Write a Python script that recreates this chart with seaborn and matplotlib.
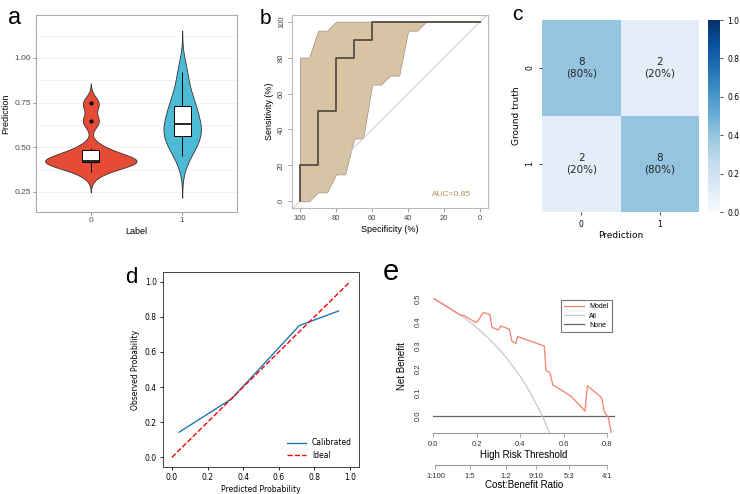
import numpy as np
import pandas as pd
import seaborn as sns
import matplotlib.pyplot as plt

W, H = 740, 494

# a: model prediction for each true label
pred_label0 = [0.36, 0.41, 0.415, 0.42, 0.42, 0.43, 0.46, 0.495, 0.645, 0.745]
pred_label1 = [0.45, 0.52, 0.56, 0.57, 0.62, 0.64, 0.70, 0.74, 0.80, 0.92]
labels = ["0", "1"]

# b: ROC curve with CI band
roc_spec = [100, 100, 90, 80, 70, 60, 0]
roc_sens = [0, 20, 50, 80, 90, 100, 100]
ci_spec = [100, 95, 90, 85, 80, 75, 70, 65, 60, 55, 50, 45, 40, 35, 30, 0]
ci_low = [0, 0, 5, 5, 15, 15, 35, 35, 65, 65, 70, 70, 95, 95, 100, 100]
ci_high = [80, 80, 95, 95, 100, 100, 100, 100, 100, 100, 100, 100, 100, 100, 100, 100]
auc_text = "AUC=0.85"

# c: confusion matrix
conf_matrix = [[8, 2], [2, 8]]
classes = ["0", "1"]

# d: calibration
cal_pred = [0.04, 0.335, 0.715, 0.935]
cal_obs = [0.143, 0.333, 0.75, 0.833]

# e: decision curve
dca_thr = [0.0, 0.123, 0.143, 0.169, 0.195, 0.202, 0.23, 0.253, 0.26, 0.27, 0.299,
           0.31, 0.34, 0.35, 0.36, 0.379, 0.388, 0.51, 0.518, 0.536, 0.549, 0.59,
           0.636, 0.697, 0.708, 0.774, 0.786, 0.805, 0.818]
dca_model = [0.5, 0.429, 0.426, 0.411, 0.397, 0.40, 0.44, 0.433, 0.43, 0.376, 0.365,
             0.382, 0.372, 0.368, 0.32, 0.308, 0.337, 0.297, 0.192, 0.185, 0.131, 0.109,
             0.081, 0.02, 0.128, 0.077, 0.017, -0.009, -0.072]
all_thr = [0.0, 0.05, 0.1, 0.15, 0.2, 0.25, 0.3, 0.35, 0.4, 0.43, 0.46, 0.49, 0.51, 0.535]
all_nb = [0.5, 0.474, 0.444, 0.412, 0.375, 0.333, 0.286, 0.231, 0.167, 0.123, 0.074,
          0.02, -0.02, -0.075]
none_thr = [0.0, 0.835]
none_nb = [0.0, 0.0]
cb_ratios = ["1:100", "1:5", "1:2", "9:10", "5:3", "4:1"]

R_FONT = "Liberation Sans"
plt.rcParams["font.family"] = ["DejaVu Sans"]


def px(l, t, r, b):
    return [l / W, 1 - b / H, (r - l) / W, (b - t) / H]


fig = plt.figure(figsize=(W / 100, H / 100), dpi=100)

# ---------------- a: violin + box ----------------
ax = fig.add_axes(px(36, 15, 237, 212))
df_a = pd.DataFrame({"Label": ["0"] * len(pred_label0) + ["1"] * len(pred_label1),
                     "Prediction": pred_label0 + pred_label1})
for y in [0.25, 0.375, 0.5, 0.625, 0.75, 0.875, 1.0, 1.125]:
    ax.axhline(y, color="#F0F0F0", lw=0.6, zorder=0)
for lab, col, bw, wd in [("0", "#E64B35", 0.31, 1.0), ("1", "#4DBBD5", 0.55, 0.41)]:
    sns.violinplot(data=df_a[df_a.Label == lab], x="Label", y="Prediction", order=labels,
                   color=col, saturation=1, bw_method=bw, cut=3, density_norm="width",
                   width=wd, inner=None, linewidth=0.6, linecolor="#333333", ax=ax)
sns.boxplot(data=df_a, x="Label", y="Prediction", order=labels, width=0.19, color="white",
            saturation=1, linecolor="black", linewidth=0.7, showcaps=False,
            flierprops=dict(marker="o", markerfacecolor="black", markeredgecolor="black",
                            markersize=2),
            medianprops=dict(linewidth=1.2), ax=ax)
ax.set_xlim(-0.6, 1.6)
ax.set_ylim(0.138, 1.24)
ax.set_yticks([0.25, 0.5, 0.75, 1.0])
ax.set_yticklabels(["0.25", "0.50", "0.75", "1.00"])
ax.tick_params(labelsize=6, labelcolor="#4D4D4D", color="#666666", length=2, width=0.5,
               pad=1.5)
for s in ax.spines.values():
    s.set_color("#AAAAAA")
    s.set_linewidth(0.8)
ax.set_xlabel("Label", fontsize=6.5, family=R_FONT, labelpad=2)
ax.set_ylabel("Prediction", fontsize=6.5, family=R_FONT, labelpad=3)
for t in ax.get_xticklabels() + ax.get_yticklabels():
    t.set_family(R_FONT)

# ---------------- b: ROC ----------------
ax = fig.add_axes(px(292, 15, 488, 208))
ax.fill_between(ci_spec, ci_low, ci_high, facecolor="#D8C3A5", edgecolor="#A09080",
                linewidth=0.5, zorder=1)
ax.axline((100, 0), (0, 100), color="#CCCCCC", lw=0.7, zorder=2)
sns.lineplot(x=roc_spec, y=roc_sens, sort=False, estimator=None, drawstyle="steps-post",
             color="#554d45", lw=1.3, ax=ax, zorder=3)
ax.set_xlim(104.5, -4.3)
ax.set_ylim(-3.7, 103.7)
ax.set_xticks([100, 80, 60, 40, 20, 0])
ax.set_yticks([0, 20, 40, 60, 80, 100])
ax.tick_params(labelsize=5.5, labelcolor="#444444", color="#777777", length=3, width=0.5,
               pad=2)
plt.setp(ax.get_yticklabels(), rotation=90, va="center")
for t in ax.get_xticklabels() + ax.get_yticklabels():
    t.set_family(R_FONT)
for s in ax.spines.values():
    s.set_color("#BBBBBB")
    s.set_linewidth(0.8)
ax.set_xlabel("Specificity (%)", fontsize=6.5, family=R_FONT, labelpad=2)
ax.set_ylabel("Sensitivity (%)", fontsize=6.5, family=R_FONT, labelpad=3)
ax.text(16, 4, auc_text, color="#B08D57", fontsize=6, family=R_FONT, ha="center",
        va="center")

# ---------------- c: confusion matrix ----------------
ax = fig.add_axes(px(542, 20, 699, 212))
cax = fig.add_axes(px(708, 20, 720, 212))
cm = np.array(conf_matrix)
row_pct = cm / cm.sum(axis=1, keepdims=True)
annot = np.array([[f"{cm[i, j]}\n({row_pct[i, j]:.0%})" for j in range(cm.shape[1])]
                  for i in range(cm.shape[0])])
sns.heatmap(cm / cm.sum(), annot=annot, fmt="", cmap="Blues", vmin=0, vmax=1,
            xticklabels=classes, yticklabels=classes, annot_kws={"size": 7.5},
            ax=ax, cbar_ax=cax)
ax.set_xlabel("Prediction", fontsize=6.5, labelpad=2)
ax.set_ylabel("Ground truth", fontsize=6.5, labelpad=3)
ax.tick_params(labelsize=5.5, length=2, width=0.5)
plt.setp(ax.get_yticklabels(), rotation=90, va="center")
cax.tick_params(labelsize=5.5, length=2, width=0.5)
cax.set_yticks([0, 0.2, 0.4, 0.6, 0.8, 1.0])
ax.collections[0].colorbar.outline.set_visible(False)

# ---------------- d: calibration ----------------
ax = fig.add_axes(px(163, 272, 359, 467))
sns.lineplot(x=cal_pred, y=cal_obs, color="#1f77b4", lw=1, label="Calibrated", ax=ax)
sns.lineplot(x=[0, 1], y=[0, 1], color="red", lw=1, linestyle="--", label="Ideal", ax=ax)
ax.set_xlim(-0.05, 1.05)
ax.set_ylim(-0.055, 1.055)
ax.set_xticks(np.arange(0, 1.01, 0.2))
ax.set_yticks(np.arange(0, 1.01, 0.2))
ax.tick_params(labelsize=5.5, length=2.5, width=0.6, pad=2)
for s in ax.spines.values():
    s.set_linewidth(0.7)
    s.set_color("#444444")
ax.set_xlabel("Predicted Probability", fontsize=5.5, labelpad=2)
ax.set_ylabel("Observed Probability", fontsize=5.5, labelpad=3)
ax.legend(loc="lower right", frameon=False, fontsize=5.5, handlelength=2.5)

# ---------------- e: decision curve ----------------
ax = fig.add_axes(px(433.3, 298.3, 615, 433))
sns.lineplot(x=none_thr, y=none_nb, color="#666666", lw=0.9, label="None", ax=ax,
             zorder=1)
sns.lineplot(x=all_thr, y=all_nb, sort=False, estimator=None, color="#C8C8C8", lw=0.9,
             label="All", ax=ax, zorder=2)
sns.lineplot(x=dca_thr, y=dca_model, sort=False, estimator=None, color="#F4806E", lw=0.9,
             label="Model", ax=ax, zorder=3)
ax.set_xlim(0, 0.835)
ax.set_ylim(-0.073, 0.5)
for ln in ax.get_lines():
    ln.set_clip_on(True)
ax.spines["top"].set_visible(False)
ax.spines["right"].set_visible(False)
ax.spines["left"].set_visible(False)
ax.spines["bottom"].set_bounds(0, 0.8)
ax.spines["bottom"].set_color("#999999")
ax.spines["bottom"].set_linewidth(0.8)
ax.set_xticks([0, 0.2, 0.4, 0.6, 0.8])
ax.set_xticklabels(["0.0", "0.2", "0.4", "0.6", "0.8"])
ax.set_yticks([0, 0.1, 0.2, 0.3, 0.4, 0.5])
ax.set_yticklabels(["0.0", "0.1", "0.2", "0.3", "0.4", "0.5"])
ax.tick_params(axis="x", labelsize=5.5, color="#999999", length=3, width=0.6, pad=3,
               labelcolor="#333333")
ax.tick_params(axis="y", labelsize=5.5, length=0, pad=8, labelcolor="#333333")
plt.setp(ax.get_yticklabels(), rotation=90, va="center")
for t in ax.get_xticklabels() + ax.get_yticklabels():
    t.set_family(R_FONT)
ax.set_xlabel("High Risk Threshold", fontsize=7, family=R_FONT, labelpad=1)
ax.set_ylabel("Net Benefit", fontsize=7, family=R_FONT, labelpad=6)
h, l = ax.get_legend_handles_labels()
order = [l.index(n) for n in ["Model", "All", "None"]]
leg = ax.legend([h[i] for i in order], [l[i] for i in order], loc="upper left",
                bbox_to_anchor=(561 / W, 1 - 300 / H), bbox_transform=fig.transFigure,
                fontsize=5, frameon=True, fancybox=False, handlelength=2.8,
                borderpad=0.5, labelspacing=0.3, borderaxespad=0)
leg.get_frame().set_edgecolor("#555555")
leg.get_frame().set_linewidth(0.8)
for t in leg.get_texts():
    t.set_family(R_FONT)

cb_pos = [int(r.split(":")[0]) / (int(r.split(":")[0]) + int(r.split(":")[1]))
          for r in cb_ratios]
sec = ax.secondary_xaxis(-0.238)
sec.set_xticks(cb_pos)
sec.set_xticklabels(cb_ratios)
sec.spines["bottom"].set_bounds(cb_pos[0], cb_pos[-1])
sec.spines["bottom"].set_color("#999999")
sec.spines["bottom"].set_linewidth(0.8)
sec.tick_params(labelsize=5.5, color="#999999", length=3, width=0.6, pad=3,
                labelcolor="#333333")
for t in sec.get_xticklabels():
    t.set_family(R_FONT)
sec.set_xlabel("Cost:Benefit Ratio", fontsize=7, family=R_FONT, labelpad=0)

# panel letters
for letter, x, y, size in [("a", 15, 23.5, 17), ("b", 265, 24, 15), ("c", 517, 19.5, 15),
                           ("d", 131, 283, 16), ("e", 391, 280, 21)]:
    fig.text(x / W, 1 - y / H, letter, fontsize=size, family=R_FONT, ha="center",
             va="baseline")

fig.savefig("out.png", dpi=100)
